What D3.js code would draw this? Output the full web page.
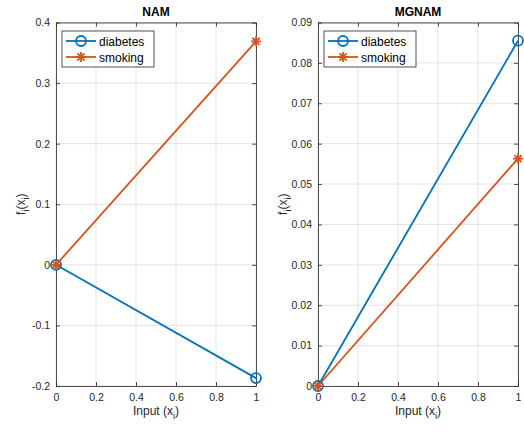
<!DOCTYPE html>
<html><head><meta charset="utf-8">
<script src="https://cdn.jsdelivr.net/npm/d3@7"></script>
<style>body{margin:0;background:#fff;} text{font-family:"Liberation Sans",Arial,Helvetica,sans-serif;}</style>
</head><body>
<svg id="c" width="524" height="434"></svg>
<script>
const xValues = [0, 1];
const xTicks = [0, 0.2, 0.4, 0.6, 0.8, 1];
const titles = ["NAM", "MGNAM"];
const seriesNames = ["diabetes", "smoking"];
const namDiabetes = [0, -0.187];
const namSmoking = [0, 0.369];
const mgnamDiabetes = [0, 0.0855];
const mgnamSmoking = [0, 0.0563];
const namYTicks = [-0.2, -0.1, 0, 0.1, 0.2, 0.3, 0.4];
const mgnamYTicks = [0, 0.01, 0.02, 0.03, 0.04, 0.05, 0.06, 0.07, 0.08, 0.09];
const colors = ["#0072BD", "#D95319"];

const svg = d3.select("#c");
const axisCol = "#262626";

const panels = [
  {title: titles[0], left: 56, right: 256, top: 22.5, bottom: 386, dom: [-0.2, 0.4], ticks: namYTicks, series: [namDiabetes, namSmoking], ylabX: 25},
  {title: titles[1], left: 318, right: 518, top: 22.5, bottom: 386, dom: [0, 0.09], ticks: mgnamYTicks, series: [mgnamDiabetes, mgnamSmoking], ylabX: 287}
];

function tickFmt(v){ return String(+v.toFixed(4)); }

function starPath(s){
  const d = s*0.7071;
  return `M${-s},0L${s},0M0,${-s}L0,${s}M${-d},${-d}L${d},${d}M${-d},${d}L${d},${-d}`;
}

panels.forEach(p => {
  const x = d3.scaleLinear().domain([0,1]).range([p.left, p.right]);
  const y = d3.scaleLinear().domain(p.dom).range([p.bottom, p.top]);
  const g = svg.append("g");
  g.selectAll(".gx").data(xTicks).enter().append("line")
    .attr("x1", d=>x(d)).attr("x2", d=>x(d)).attr("y1", p.top).attr("y2", p.bottom)
    .attr("stroke", "#e3e3e3").attr("stroke-width", 1);
  g.selectAll(".gy").data(p.ticks).enter().append("line")
    .attr("y1", d=>y(d)).attr("y2", d=>y(d)).attr("x1", p.left).attr("x2", p.right)
    .attr("stroke", "#e3e3e3").attr("stroke-width", 1);
  const ax = d3.axisBottom(x).tickValues(xTicks).tickSize(-4).tickSizeOuter(0).tickPadding(8).tickFormat(tickFmt);
  const axT = d3.axisTop(x).tickValues(xTicks).tickSize(-4).tickSizeOuter(0).tickFormat("");
  const ay = d3.axisLeft(y).tickValues(p.ticks).tickSize(-4).tickSizeOuter(0).tickPadding(6).tickFormat(tickFmt);
  const ayR = d3.axisRight(y).tickValues(p.ticks).tickSize(-4).tickSizeOuter(0).tickFormat("");
  [[ax, `translate(0,${p.bottom})`], [axT, `translate(0,${p.top})`], [ay, `translate(${p.left},0)`], [ayR, `translate(${p.right},0)`]].forEach(([a, t]) => {
    const gg = g.append("g").attr("transform", t).call(a);
    gg.selectAll("path,line").attr("stroke", axisCol).attr("stroke-width", 0.8);
    gg.selectAll("text").attr("fill", axisCol).style("font-size", "10.5px").attr("font-family", "Liberation Sans, Arial, sans-serif");
  });
  g.append("text").attr("x", (p.left+p.right)/2).attr("y", 16).attr("text-anchor", "middle")
    .style("font-size", "12px").style("font-weight", "bold").attr("fill", "#000").text(p.title);
  const xl = g.append("text").attr("x", (p.left+p.right)/2).attr("y", 415).attr("text-anchor", "middle")
    .style("font-size", "12px").attr("fill", axisCol);
  xl.append("tspan").text("Input (x");
  xl.append("tspan").attr("dy", 4).style("font-size", "9px").text("i");
  xl.append("tspan").attr("dy", -4).text(")");
  const yl = g.append("text").attr("transform", `translate(${p.ylabX},${(p.top+p.bottom)/2}) rotate(-90)`)
    .attr("text-anchor", "middle").style("font-size", "12px").attr("fill", axisCol);
  yl.append("tspan").text("f");
  yl.append("tspan").attr("dy", 4).style("font-size", "9px").text("i");
  yl.append("tspan").attr("dy", -4).text("(x");
  yl.append("tspan").attr("dy", 4).style("font-size", "9px").text("i");
  yl.append("tspan").attr("dy", -4).text(")");
  const line = d3.line().x((d,i)=>x(xValues[i])).y(d=>y(d));
  p.series.forEach((s, k) => {
    g.append("path").datum(s).attr("d", line).attr("fill", "none").attr("stroke", colors[k]).attr("stroke-width", 1.8);
  });
  p.series.forEach((s, k) => {
    s.forEach((v, i) => {
      if (k === 0) {
        g.append("circle").attr("cx", x(xValues[i])).attr("cy", y(v)).attr("r", 5)
          .attr("fill", "none").attr("stroke", colors[k]).attr("stroke-width", 1.8);
      } else {
        g.append("path").attr("transform", `translate(${x(xValues[i])},${y(v)})`).attr("d", starPath(5))
          .attr("stroke", colors[k]).attr("stroke-width", 1.8).attr("fill", "none");
      }
    });
  });
  const lx = p.left + 6, ly = 31, lw = 92, lh = 36;
  const lg = g.append("g");
  lg.append("rect").attr("x", lx).attr("y", ly).attr("width", lw).attr("height", lh)
    .attr("fill", "#fff").attr("stroke", axisCol).attr("stroke-width", 0.8);
  seriesNames.forEach((n, k) => {
    const yy = ly + 10 + k*16;
    lg.append("line").attr("x1", lx+4).attr("x2", lx+34).attr("y1", yy).attr("y2", yy)
      .attr("stroke", colors[k]).attr("stroke-width", 1.8);
    if (k === 0) {
      lg.append("circle").attr("cx", lx+19).attr("cy", yy).attr("r", 5).attr("fill", "none")
        .attr("stroke", colors[k]).attr("stroke-width", 1.8);
    } else {
      lg.append("path").attr("transform", `translate(${lx+19},${yy})`).attr("d", starPath(5))
        .attr("stroke", colors[k]).attr("stroke-width", 1.8);
    }
    lg.append("text").attr("x", lx+37).attr("y", yy+4.5).style("font-size", "12px").attr("fill", "#000").text(n);
  });
});
</script>
</body></html>
